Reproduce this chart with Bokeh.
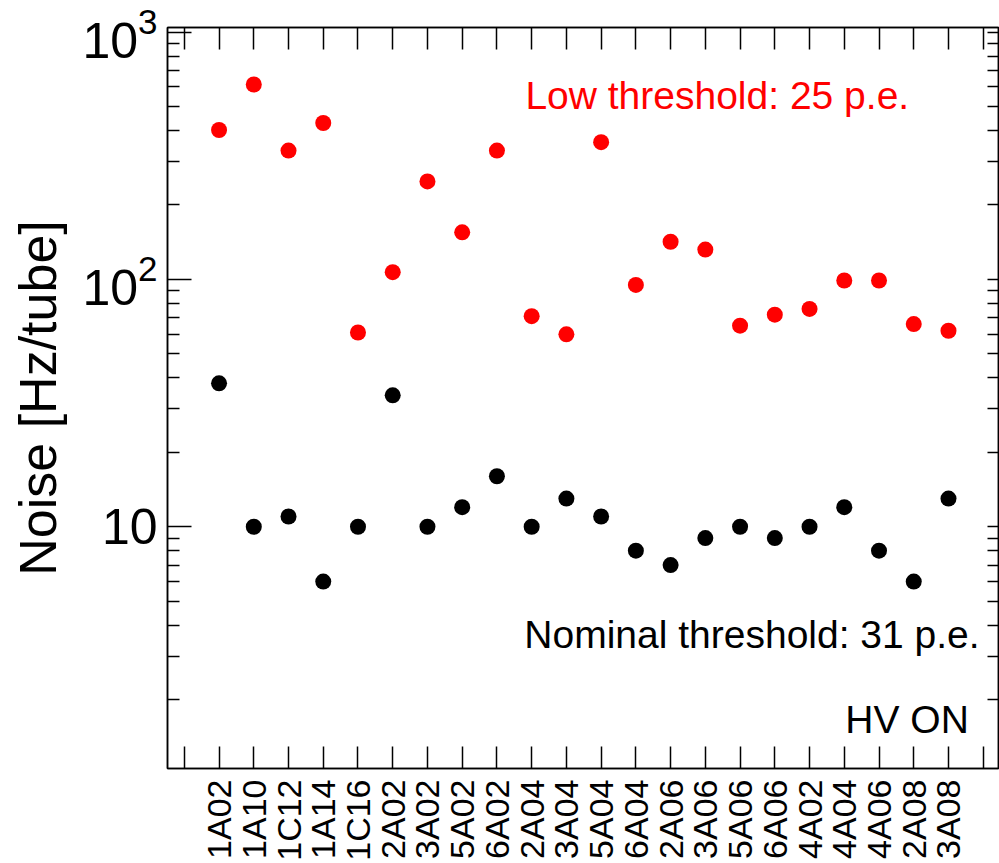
import math
from bokeh.plotting import figure
from bokeh.models import (Range1d, FixedTicker, LinearAxis, LogAxis,
                          LogTickFormatter, Label, ColumnDataSource)
from bokeh.embed import file_html
from bokeh.resources import INLINE

categories = ["1A02", "1A10", "1C12", "1A14", "1C16", "2A02", "3A02", "5A02",
              "6A02", "2A04", "3A04", "5A04", "6A04", "2A06", "3A06", "5A06",
              "6A06", "4A02", "4A04", "4A06", "2A08", "3A08"]
low_threshold = [402, 614, 332, 429, 61, 107, 249, 155, 332, 71, 60, 359,
                 95, 142, 132, 65, 72, 76, 99, 99, 66, 62]
nominal_threshold = [38, 10, 11, 6, 10, 34, 10, 12, 16, 10, 13, 11,
                     8, 7, 9, 10, 9, 10, 12, 8, 6, 13]
y_major = [10, 100, 1000]
y_minor = [m * 10 ** k for k in range(0, 3) for m in range(2, 10)]

FONT = "Liberation Sans"

positions = list(range(1, len(categories) + 1))
edge_ticks = [0, len(categories) + 1]
overrides = {pos: c for pos, c in zip(positions, categories)}

src = ColumnDataSource(dict(x=positions, low=low_threshold, nom=nominal_threshold))

p = figure(width=999, height=863, y_axis_type="log",
           x_range=Range1d(-0.484, 23.44), y_range=Range1d(1.053, 1044),
           output_backend="svg", toolbar_location=None,
           min_border_left=167, min_border_right=1, min_border_top=27,
           min_border_bottom=92)
p.xgrid.visible = False
p.ygrid.visible = False
p.outline_line_color = "black"
p.outline_line_width = 1.5
p.background_fill_color = "white"
p.border_fill_color = "white"

# bottom axis
xa = p.xaxis[0]
xa.ticker = FixedTicker(ticks=positions, minor_ticks=edge_ticks)
xa.major_label_overrides = overrides
xa.major_label_orientation = math.pi / 2
xa.major_label_text_font = FONT
xa.major_label_text_font_size = "34px"
xa.major_label_text_color = "black"
xa.major_label_standoff = 11
xa.major_tick_in = 22
xa.major_tick_out = 0
xa.minor_tick_in = 22
xa.minor_tick_out = 0
xa.axis_line_color = "black"
xa.axis_line_width = 1.5
xa.major_tick_line_width = 1.5
xa.minor_tick_line_width = 1.5
xa.major_tick_line_color = "black"
xa.minor_tick_line_color = "black"

# top axis (ticks only)
ta = LinearAxis(ticker=FixedTicker(ticks=[], minor_ticks=edge_ticks + positions),
                major_label_standoff=0, major_tick_in=0, major_tick_out=0,
                minor_tick_in=22, minor_tick_out=0,
                axis_line_color="black", axis_line_width=1.5,
                minor_tick_line_width=1.5, minor_tick_line_color="black")
p.add_layout(ta, "above")

# left axis
ya = p.yaxis[0]
ya.ticker = FixedTicker(ticks=y_major, minor_ticks=y_minor)
ya.formatter = LogTickFormatter()
ya.major_label_overrides = {10: "10"}
ya.major_label_text_font = FONT
ya.major_label_text_font_size = "50px"
ya.major_label_text_color = "black"
ya.major_label_standoff = 10
ya.major_tick_in = 24
ya.major_tick_out = 0
ya.minor_tick_in = 12
ya.minor_tick_out = 0
ya.axis_line_color = "black"
ya.axis_line_width = 1.5
ya.major_tick_line_width = 1.5
ya.minor_tick_line_width = 1.5
ya.major_tick_line_color = "black"
ya.minor_tick_line_color = "black"
ya.axis_label = "Noise [Hz/tube]"
ya.axis_label_text_font = FONT
ya.axis_label_text_font_size = "52px"
ya.axis_label_text_font_style = "normal"
ya.axis_label_text_color = "black"
ya.axis_label_standoff = 12

# right axis (ticks only)
ra = LogAxis(ticker=FixedTicker(ticks=[], minor_ticks=y_minor + y_major),
             major_label_standoff=0, major_tick_in=0, major_tick_out=0,
             minor_tick_in=11, minor_tick_out=0,
             axis_line_color="black", axis_line_width=1.5,
             minor_tick_line_width=1.5, minor_tick_line_color="black")
p.add_layout(ra, "right")

p.scatter("x", "low", source=src, size=16, color="#ff0000", line_color=None)
p.scatter("x", "nom", source=src, size=16, color="black", line_color=None)

p.add_layout(Label(x=9.82, y=556, text="Low threshold: 25 p.e.",
                   text_color="#ff0000", text_font=FONT, text_font_size="39px",
                   text_baseline="alphabetic"))
p.add_layout(Label(x=9.79, y=3.68, text="Nominal threshold: 31 p.e.",
                   text_color="black", text_font=FONT, text_font_size="39px",
                   text_baseline="alphabetic"))
p.add_layout(Label(x=19.03, y=1.66, text="HV ON",
                   text_color="black", text_font=FONT, text_font_size="39px",
                   text_baseline="alphabetic"))

open("out.html", "w").write(file_html(p, INLINE))
